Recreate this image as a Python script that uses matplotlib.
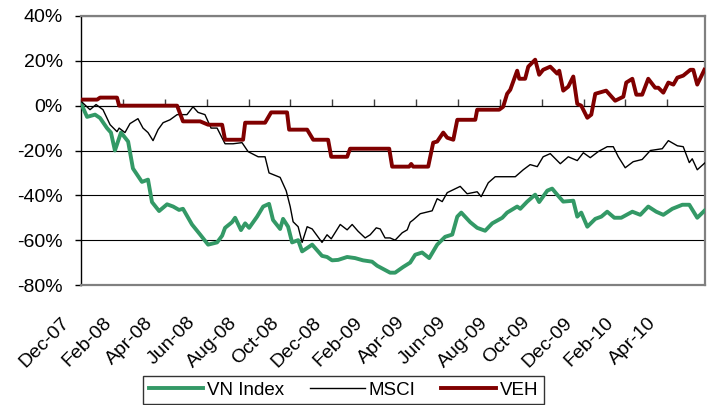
import matplotlib
matplotlib.use("Agg")
import matplotlib.pyplot as plt
from matplotlib.transforms import ScaledTranslation

plt.rcParams['font.family'] = ['Liberation Sans', 'DejaVu Sans']

# time in months since Dec-07
tick_months = [0, 2, 4, 6, 8, 10, 12, 14, 16, 18, 20, 22, 24, 26, 28]
tick_labels = ["Dec-07", "Feb-08", "Apr-08", "Jun-08", "Aug-08", "Oct-08", "Dec-08",
               "Feb-09", "Apr-09", "Jun-09", "Aug-09", "Oct-09", "Dec-09", "Feb-10", "Apr-10"]

vn_t = [0.00, 0.29, 0.67, 0.91, 1.24, 1.43, 1.62, 1.91, 2.25, 2.48, 2.91, 3.20, 3.39, 3.73,
        4.11, 4.40, 4.68, 4.87, 5.30, 5.69, 6.07, 6.50, 6.74, 6.88, 7.21, 7.36, 7.64, 7.84,
        8.03, 8.41, 8.70, 8.98, 9.17, 9.51, 9.65, 9.89, 10.08, 10.37, 10.56, 11.04, 11.51,
        11.75, 11.99, 12.28, 12.71, 13.09, 13.47, 13.90, 14.14, 14.76, 15.00, 15.38, 15.72,
        15.96, 16.29, 16.63, 17.01, 17.39, 17.73, 17.97, 18.16, 18.59, 18.92, 19.30, 19.64,
        20.12, 20.35, 20.83, 20.98, 21.31, 21.69, 21.88, 22.27, 22.50, 22.74, 23.03, 23.51,
        23.70, 23.89, 24.18, 24.56, 24.85, 25.13, 25.47, 25.80, 26.33, 26.71, 27.09, 27.47,
        27.81, 28.24, 28.72, 29.05, 29.43, 29.77]
vn_v = [1, -5, -4, -5.5, -10, -12, -20, -12, -16, -28, -34, -33, -43, -47,
        -44, -45, -46.5, -46, -53, -57.5, -62, -61, -58, -54.5, -52, -50, -55.5, -52.5,
        -54.5, -49.5, -45, -43.8, -51, -55, -50.5, -54, -61, -60, -65, -62, -67,
        -67.5, -69, -68.8, -67.5, -68, -69, -69.6, -71.4, -74.5, -74.5, -72, -70,
        -66.5, -65.5, -68, -62, -58.5, -57.5, -49.5, -47.7, -52, -54.5, -55.8, -52.5,
        -50, -47.7, -45, -46, -42.8, -39.7, -43, -37.9, -37, -39.7, -42.8, -42.4,
        -49.5, -47.7, -54, -50.5, -49.5, -47.3, -50, -50, -47.3, -48.7, -45, -47.3,
        -48.7, -46, -44.2, -44.2, -50, -46.9]

msci_t = [0.00, 0.43, 0.72, 1.05, 1.39, 1.72, 1.82, 2.10, 2.34, 2.72, 2.96, 3.20, 3.44, 3.68,
          3.92, 4.25, 4.59, 5.06, 5.35, 5.59, 5.92, 6.21, 6.50, 6.88, 7.26, 7.69, 7.98, 8.46,
          8.79, 8.98, 9.51, 9.80, 9.99, 10.13, 10.37, 10.56, 10.80, 11.04, 11.51, 11.75,
          11.95, 12.38, 12.71, 12.95, 13.23, 13.57, 13.81, 14.10, 14.29, 14.52, 14.76, 15.00,
          15.34, 15.58, 15.72, 15.86, 16.20, 16.77, 17.01, 17.25, 17.49, 18.11, 18.44, 18.92,
          19.11, 19.45, 19.78, 20.74, 21.12, 21.45, 21.79, 22.07, 22.41, 22.89, 23.27, 23.70,
          23.99, 24.32, 24.70, 25.13, 25.42, 25.66, 25.99, 26.37, 26.80, 27.19, 27.76, 28.05,
          28.48, 28.76, 29.05, 29.19, 29.43, 29.81]
msci_v = [2, -1.8, 0.5, -1.8, -8.5, -11.6, -10, -12, -8, -5.8, -10, -12, -15.6, -10.7,
          -7.6, -6.3, -4, -4, -0.5, -3, -4, -10, -10, -17, -17, -16.5, -20.5, -22.8,
          -22.8, -30, -32, -38, -45, -51.8, -54, -61, -54, -55, -61, -57.6,
          -59.4, -53, -55.4, -53, -56, -59, -57.6, -54.5, -55, -59, -59, -60,
          -56.7, -55.4, -52, -51, -48.2, -46.9, -41.5, -42.8, -38.8, -36, -39.3, -38.4,
          -40.6, -34.4, -31.7, -31.7, -28.6, -26.3, -27.2, -22.8, -21.4, -25.9, -22.8, -24.5,
          -21, -23.2, -20.5, -18.3, -18.3, -22.8, -27.7, -25, -24, -20, -19.2, -15.6,
          -17.9, -18.3, -25.4, -23.7, -28.6, -25.4]

veh_t = [0.00, 0.77, 0.91, 1.72, 1.82, 4.59, 4.87, 5.69, 6.07, 6.74, 6.88, 7.74, 7.84, 8.79,
         9.08, 9.84, 9.94, 10.80, 11.09, 11.80, 11.95, 12.71, 12.85, 14.72, 14.86, 15.67,
         15.77, 15.86, 16.58, 16.82, 17.01, 17.30, 17.49, 17.78, 17.97, 18.83, 18.92, 19.97,
         20.16, 20.35, 20.50, 20.83, 20.93, 21.21, 21.36, 21.69, 21.88, 22.07, 22.41, 22.74,
         22.84, 23.03, 23.27, 23.51, 23.70, 23.89, 24.18, 24.37, 24.56, 25.08, 25.51, 25.90,
         26.04, 26.33, 26.52, 26.80, 27.09, 27.42, 27.57, 27.81, 28.05, 28.29, 28.48, 28.76,
         29.10, 29.24, 29.43, 29.77]
veh_v = [2.7, 2.7, 3.6, 3.6, 0, 0, -7, -7, -8.5, -8.5, -15.2, -15.2, -7.6, -7.6,
         -3, -3, -10.7, -10.7, -15.2, -15.2, -22.8, -22.8, -19.2, -19.2, -27.2, -27.2,
         -26, -27.2, -27.2, -16.5, -16, -12, -14.3, -15.2, -6.3, -6.3, -1.8, -1.8,
         -0.5, 5.3, 7.1, 15.6, 12, 12, 17.4, 20.5, 13.8, 16, 17.4, 14.3,
         15.6, 6.7, 8.5, 13, 0.8, 0, -5.4, -4, 5.3, 6.7, 2.2, 4,
         10.3, 12, 4.9, 4.9, 12, 8, 8, 5.8, 10.3, 9.4, 12.5, 13.4,
         16, 16, 9.4, 16]

fig = plt.figure(figsize=(7.12, 4.05), dpi=100)
ax = fig.add_axes([81/712, 1-285/405, (705-81)/712, (285-16)/405])

ax.plot(vn_t, vn_v, color='#339966', lw=2.8, label='VN Index', zorder=3)
ax.plot(msci_t, msci_v, color='black', lw=1.0, label='MSCI', zorder=4)
ax.plot(veh_t, veh_v, color='#800000', lw=2.8, label='VEH', zorder=5)

ax.set_xlim(0, 29.8)
ax.set_ylim(-80, 40)
yt = [-80, -60, -40, -20, 0, 20, 40]
ax.set_yticks(yt)
ax.set_yticklabels([f"{v}%" for v in yt], fontsize=14)
ax.tick_params(axis='y', direction='out', length=4, width=1, color='black', pad=9)

ax.set_axisbelow(True)
ax.yaxis.grid(True, color='black', lw=0.8)
ax.xaxis.grid(False)

for s in ['top', 'right', 'bottom']:
    ax.spines[s].set_color('#808080')
    ax.spines[s].set_linewidth(1.6)
ax.spines['left'].set_color('black')
ax.spines['left'].set_linewidth(1.0)

# category labels at bottom
ax.set_xticks(tick_months)
ax.set_xticklabels(tick_labels, fontsize=14, rotation=45, ha='right', va='top',
                   rotation_mode='anchor')
ax.tick_params(axis='x', length=0, pad=0)
off = ScaledTranslation(-20/100, -29/100, fig.dpi_scale_trans)
for lab in ax.get_xticklabels():
    lab.set_transform(lab.get_transform() + off)

# axis line crossing at 0% with tick marks
sec = ax.secondary_xaxis(2/3)
sec.set_xticks(tick_months)
sec.set_xticklabels([])
sec.tick_params(axis='x', direction='out', length=5, width=1, color='#404040')
sec.spines['bottom'].set_color('#404040')
sec.spines['bottom'].set_linewidth(1.0)

leg = fig.legend(loc='upper left', bbox_to_anchor=(143/712, 1-376/405), ncol=3,
                 fontsize=13.5, frameon=True, fancybox=False, edgecolor='black',
                 handlelength=2.9, handletextpad=0.2, columnspacing=1.4,
                 borderpad=0.3, borderaxespad=0)
leg.get_frame().set_linewidth(1.0)

fig.savefig('out.png', dpi=100)
